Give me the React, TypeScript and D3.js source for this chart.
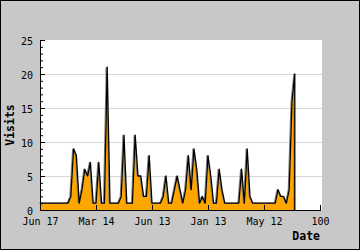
import React from 'react';
import * as d3 from 'd3';

const visits: number[] = [
  1, 1, 1, 1, 1, 1, 1, 1, 1, 1, 1,
  2, 9, 8, 1, 3, 6, 5, 7, 1, 1,
  7, 1, 1, 21, 1, 1, 1, 1, 2, 11,
  1, 1, 1, 11, 5, 5, 2, 2, 8, 1,
  1, 1, 1, 2, 5, 1, 1, 3, 5, 3,
  1, 3, 8, 3, 9, 6, 1, 2, 1, 8,
  5, 1, 1, 6, 3, 1, 1, 1, 1, 1,
  1, 6, 1, 9, 2, 1, 1, 1, 1, 1,
  1, 1, 1, 1, 3, 2, 2, 1, 3, 16,
  20,
];
const xTickValues = [0, 20, 40, 60, 80, 100];
const xTickLabels = ['Jun 17', 'Mar 14', 'Jun 13', 'Jan 13', 'May 12', '100'];
const yMajorTicks = [0, 5, 10, 15, 20, 25];
const yMinorTicks = d3.range(0, 26);
const gridValues = [5, 10, 15, 20];

export default function App() {
  const W = 360, H = 250;
  const left = 40, right = 320, top = 40, bottom = 210;
  const x = d3.scaleLinear().domain([0, 100]).range([left, right]);
  const y = d3.scaleLinear().domain([0, 25]).range([bottom, top]);
  const pts: [number, number][] = visits.map((v, i) => [i, v]);
  const area = d3.area<[number, number]>().x(d => x(d[0])).y0(y(0)).y1(d => y(d[1]));
  const lastI = visits.length - 1;
  const linePts: [number, number][] = [...pts, [lastI, 0]];
  const line = d3.line<[number, number]>().x(d => x(d[0])).y(d => y(d[1]));
  const mono = '"DejaVu Sans Mono", monospace';
  return (
    <svg width={W} height={H} style={{ position: 'absolute', left: 0, top: 0 }}>
      <rect x={0.5} y={0.5} width={W - 1} height={H - 1} fill="#c8c8c8" stroke="#000" strokeWidth={1} />
      <rect x={left} y={top} width={282} height={bottom - top} fill="#fff" />
      {gridValues.map(v => (
        <line key={v} x1={left + 1} x2={322} y1={y(v) + 0.5} y2={y(v) + 0.5} stroke="#d8d8d8" strokeWidth={1} />
      ))}
      <path d={area(pts) || ''} fill="#ffa500" />
      <path d={line(linePts) || ''} fill="none" stroke="#808080" strokeWidth={1} transform="translate(-1,0)" />
      <path d={line(linePts) || ''} fill="none" stroke="#000" strokeWidth={1.3} strokeLinejoin="round" />
      {/* axes */}
      <line x1={left + 0.5} x2={left + 0.5} y1={top} y2={bottom + 1} stroke="#000" strokeWidth={1} />
      <line x1={left} x2={321} y1={bottom + 0.5} y2={bottom + 0.5} stroke="#000" strokeWidth={1} />
      {yMinorTicks.map(v => (
        <line key={'m' + v} x1={left} x2={left + (v % 5 === 0 ? 5 : 3)} y1={y(v) + 0.5} y2={y(v) + 0.5} stroke="#000" strokeWidth={1} />
      ))}
      {yMajorTicks.map(v => (
        <text key={'yl' + v} x={33} y={y(v) + 1} textAnchor="end" dominantBaseline="central" fontFamily={mono} fontSize={10} fill="#000">{v}</text>
      ))}
      {xTickValues.map((v, i) => (
        <g key={'xt' + v}>
          <line x1={x(v) + 0.5} x2={x(v) + 0.5} y1={bottom - 5} y2={bottom} stroke="#000" strokeWidth={1} />
          <text x={x(v) + 0.5} y={225} textAnchor="middle" fontFamily={mono} fontSize={10} fill="#000">{xTickLabels[i]}</text>
        </g>
      ))}
      <text x={320} y={240} textAnchor="end" fontFamily={mono} fontWeight="bold" fontSize={11.5} fill="#000">Date</text>
      <text transform="translate(13.5,125) rotate(-90)" textAnchor="middle" fontFamily={mono} fontWeight="bold" fontSize={11.5} fill="#000">Visits</text>
    </svg>
  );
}
